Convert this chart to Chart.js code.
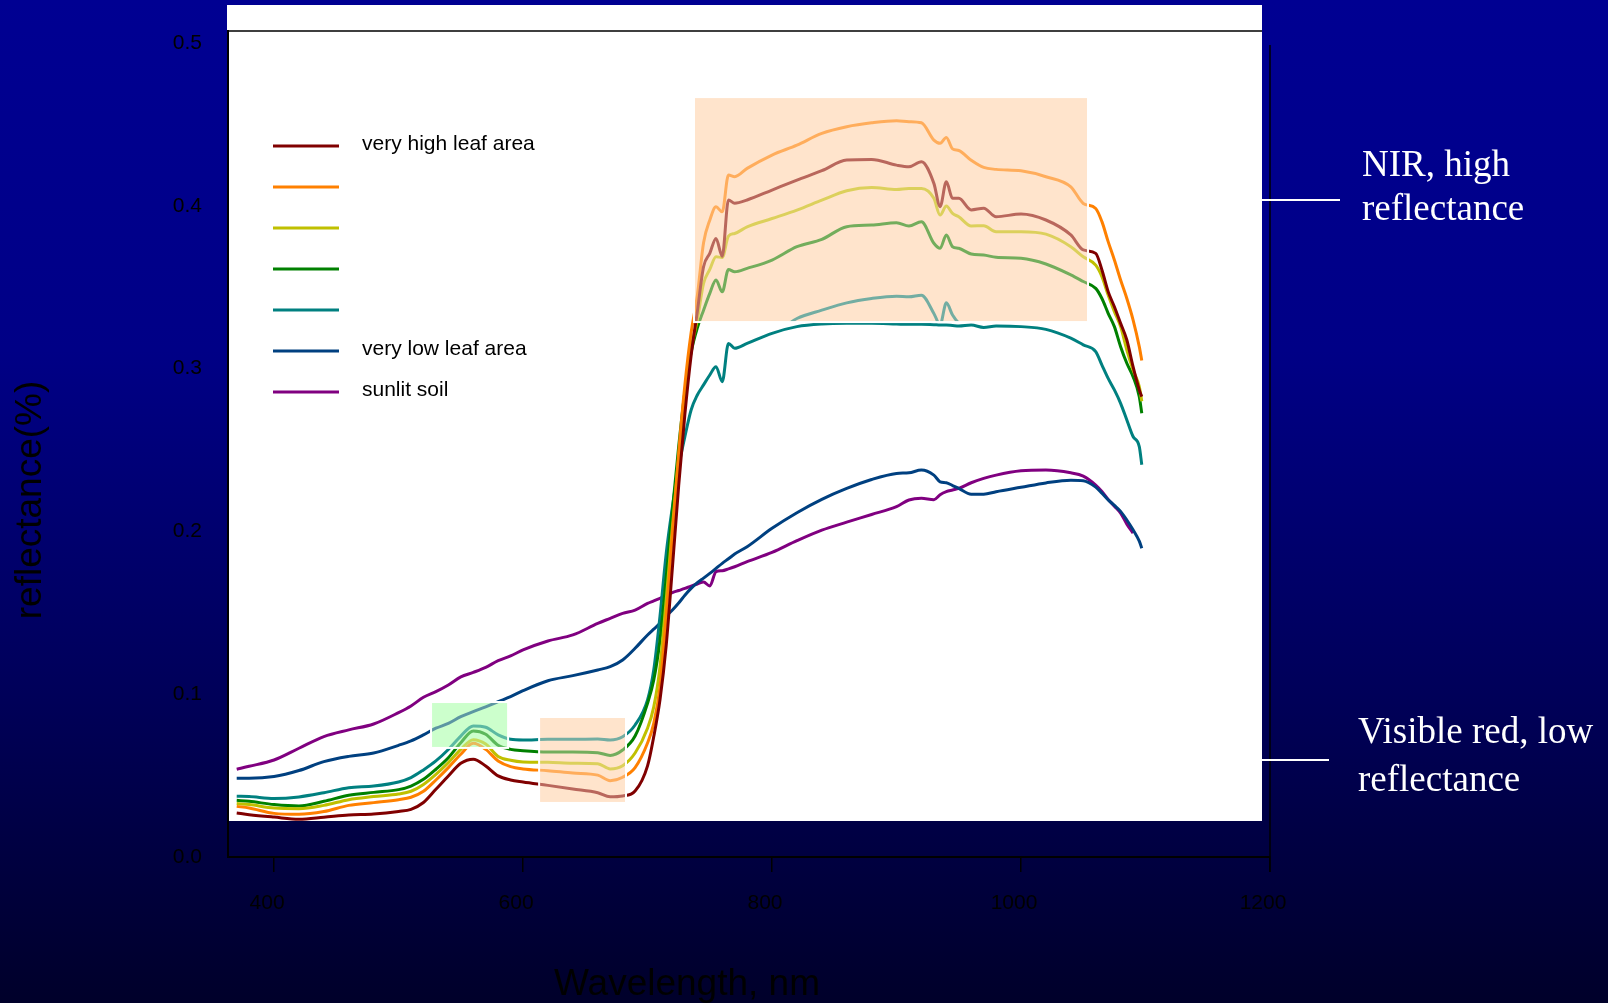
<!DOCTYPE html>
<html>
<head>
<meta charset="utf-8">
<title>Reflectancia</title>
<script src="https://cdn.jsdelivr.net/npm/chart.js@4.4.1/dist/chart.umd.min.js"></script>
<style>
  html, body { margin: 0; padding: 0; overflow: hidden; }
  body {
    width: 1608px;
    height: 1003px;
    background: linear-gradient(to bottom, #000092 0%, #000086 35%, #000058 70%, #00002a 100%);
  }
  canvas { display: block; }
</style>
</head>
<body>
<canvas id="chart" width="1608" height="1003"></canvas>
<script>
// Longitudes de onda (nm)
const wavelengths = [
  370, 380, 400, 420, 440, 460, 480, 500,
  510, 520, 530, 540, 550, 560, 570, 580, 590, 600,
  620, 640, 660, 670, 680, 690, 700,
  705, 710, 715, 720, 725, 730, 735, 740,
  745, 750, 755, 760, 765, 770, 780,
  800, 820, 840, 860, 880, 900,
  910, 920, 930, 935, 940, 945, 950,
  960, 970, 980, 1000, 1020, 1040, 1050,
  1060, 1065, 1070, 1075, 1080, 1085, 1090, 1095, 1097
];

// Reflectancia de cada serie
const veryHighLeaf = [
  0.027, 0.026, 0.0245, 0.0232, 0.0244, 0.0258, 0.0264, 0.028,
  0.0293, 0.0335, 0.0416, 0.0498, 0.0576, 0.0601, 0.0559, 0.0498, 0.0473, 0.0461,
  0.044, 0.0418, 0.0395, 0.037, 0.0375, 0.0405, 0.056,
  0.074, 0.0965, 0.13, 0.178, 0.228, 0.272, 0.308, 0.335,
  0.3626, 0.3708, 0.38, 0.369, 0.4036, 0.4016, 0.4036,
  0.4097, 0.4158, 0.4216, 0.4281, 0.4285, 0.425,
  0.424, 0.4271, 0.4138, 0.3995, 0.4148, 0.4046, 0.4046,
  0.3975, 0.3985, 0.3933, 0.395, 0.3913, 0.3821, 0.3729,
  0.3708, 0.3606, 0.3473, 0.338, 0.3278, 0.3176, 0.3012, 0.2869, 0.2828
];
const highLeaf = [
  0.0311, 0.0301, 0.0268, 0.0262, 0.0279, 0.0317, 0.0334, 0.0352,
  0.0367, 0.0404, 0.0473, 0.0549, 0.0631, 0.0698, 0.0661, 0.059, 0.0555, 0.0541,
  0.053, 0.0516, 0.0503, 0.0469, 0.049, 0.0549, 0.07,
  0.0821, 0.1044, 0.148, 0.198, 0.248, 0.29, 0.322, 0.345,
  0.3773, 0.3912, 0.3994, 0.3963, 0.4189, 0.4179, 0.423,
  0.4312, 0.4373, 0.4445, 0.4486, 0.451, 0.4523,
  0.4517, 0.451, 0.4404, 0.4384, 0.442, 0.435, 0.434,
  0.428, 0.4236, 0.4224, 0.4215, 0.4179, 0.4117, 0.4015,
  0.3984, 0.3903, 0.378, 0.3667, 0.3544, 0.3431, 0.33, 0.3135, 0.305
];
const mediumLeaf = [
  0.0328, 0.0322, 0.0301, 0.0297, 0.0317, 0.0352, 0.0371, 0.0387,
  0.0404, 0.0446, 0.0508, 0.058, 0.0661, 0.0721, 0.0694, 0.0618, 0.0594, 0.0584,
  0.0582, 0.0576, 0.0573, 0.0541, 0.0561, 0.0639, 0.0791,
  0.0922, 0.1168, 0.158, 0.203, 0.245, 0.283, 0.312, 0.33,
  0.3523, 0.3609, 0.3687, 0.3683, 0.3814, 0.383, 0.3871,
  0.3922, 0.3974, 0.4035, 0.4093, 0.4113, 0.4101,
  0.4107, 0.4107, 0.4046, 0.3943, 0.3999, 0.3953, 0.3933,
  0.3876, 0.3878, 0.3841, 0.3841, 0.3826, 0.3749, 0.3687,
  0.3636, 0.3565, 0.3452, 0.335, 0.3258, 0.3114, 0.2992, 0.289, 0.28
];
const lowLeaf = [
  0.0348, 0.0342, 0.0322, 0.0313, 0.0342, 0.0379, 0.0397, 0.0414,
  0.0436, 0.0477, 0.0539, 0.061, 0.0702, 0.0774, 0.0754, 0.0686, 0.0661, 0.0653,
  0.0645, 0.0645, 0.0641, 0.0624, 0.0657, 0.0743, 0.0944,
  0.1087, 0.1333, 0.172, 0.213, 0.252, 0.286, 0.31, 0.325,
  0.3359, 0.3462, 0.3544, 0.3472, 0.3609, 0.3595, 0.3616,
  0.3667, 0.3749, 0.3794, 0.3872, 0.3882, 0.3896,
  0.3876, 0.3902, 0.377, 0.3739, 0.3821, 0.3749, 0.3739,
  0.3704, 0.3698, 0.3684, 0.3678, 0.3643, 0.3576, 0.3535,
  0.3493, 0.3431, 0.334, 0.3258, 0.3135, 0.3033, 0.2951, 0.2828, 0.2726
];
const lowerLeaf = [
  0.0373, 0.0371, 0.0359, 0.0369, 0.0395, 0.0426, 0.0436, 0.0461,
  0.0488, 0.0535, 0.059, 0.066, 0.0743, 0.0805, 0.0797, 0.075, 0.0723, 0.0719,
  0.0723, 0.0723, 0.0725, 0.0719, 0.0739, 0.0811, 0.0965,
  0.115, 0.148, 0.1865, 0.2152, 0.2398, 0.2582, 0.2746, 0.2838,
  0.29, 0.2961, 0.3012, 0.292, 0.3155, 0.3125, 0.3155,
  0.3217, 0.3258, 0.3274, 0.3278, 0.3278, 0.3274,
  0.3272, 0.3272, 0.327, 0.3268, 0.3268, 0.3265, 0.3262,
  0.3268, 0.3253, 0.3262, 0.3258, 0.3241, 0.3187, 0.3146,
  0.3105, 0.3022, 0.294, 0.2869, 0.2787, 0.2685, 0.2583, 0.2521, 0.241
];
const veryLowLeaf = [
  0.0483, 0.0483, 0.0494, 0.0531, 0.0586, 0.0618, 0.0639, 0.0686,
  0.0713, 0.075, 0.0791, 0.0821, 0.0862, 0.0893, 0.0922, 0.0954, 0.0985, 0.1022,
  0.1083, 0.1114, 0.1149, 0.1169, 0.121, 0.1282, 0.1364,
  0.14, 0.1435, 0.148, 0.1517, 0.156, 0.1608, 0.165, 0.1685,
  0.1713, 0.1742, 0.1773, 0.1804, 0.1832, 0.1861, 0.1906,
  0.2019, 0.2115, 0.2197, 0.2264, 0.2319, 0.2356,
  0.236, 0.2377, 0.2346, 0.2305, 0.2299, 0.2282, 0.2264,
  0.2228, 0.2229, 0.2244, 0.2271, 0.2298, 0.2314, 0.2311,
  0.2272, 0.2235, 0.2194, 0.216, 0.2123, 0.207, 0.201, 0.194, 0.1897
];
const sunlitSoil = [
  0.0539, 0.0557, 0.0596, 0.0668, 0.074, 0.0781, 0.0817, 0.0887,
  0.0928, 0.0981, 0.1016, 0.1057, 0.1106, 0.1134, 0.1165, 0.1206, 0.1235, 0.1272,
  0.1327, 0.1364, 0.1435, 0.1466, 0.1497, 0.1517, 0.1558,
  0.1573, 0.1589, 0.1607, 0.1624, 0.1637, 0.165, 0.1664, 0.1677,
  0.1689, 0.1665, 0.1753, 0.1759, 0.177, 0.1783, 0.1814,
  0.1871, 0.1943, 0.2008, 0.2057, 0.2104, 0.2152,
  0.2193, 0.2203, 0.2195, 0.2225, 0.2244, 0.2254, 0.2264,
  0.2299, 0.2326, 0.2346, 0.2372, 0.2377, 0.236, 0.234,
  0.2285, 0.2245, 0.2197, 0.2155, 0.2112, 0.2045, 0.199, null, null
];

// Trazo que solo se ve dentro del recuadro NIR
const insetWavelengths = [810, 815, 820, 840, 860, 880, 900, 910, 920, 930, 935, 940, 945, 950, 955];
const insetValues = [0.325, 0.3284, 0.3308, 0.3359, 0.3404, 0.3431, 0.3445, 0.3441, 0.3451, 0.3339, 0.327, 0.3404, 0.3329, 0.328, 0.326];

// Leyenda y colores
const seriesLabels = ['very high leaf area', '', '', '', '', 'very low leaf area', 'sunlit soil'];
const seriesColors = ['#800000', '#ff8000', '#c0c000', '#008000', '#008080', '#004080', '#800080'];
const seriesValues = [veryHighLeaf, highLeaf, mediumLeaf, lowLeaf, lowerLeaf, veryLowLeaf, sunlitSoil];

// Ticks
const xTicks = [400, 600, 800, 1000, 1200];
const yTicks = [0, 0.1, 0.2, 0.3, 0.4, 0.5];

// Recuadros resaltados (nm / reflectancia)
const highlightBoxes = [
  { x0: 737.3, x1: 1053.8, y0: 0.3286, y1: 0.4668, fill: '255,228,204' },
  { x0: 526.1, x1: 588, y0: 0.067, y1: 0.0952, fill: '204,255,204' },
  { x0: 612.9, x1: 682.7, y0: 0.0332, y1: 0.086, fill: '255,228,204' }
];

function toPoints(xs, ys) {
  return xs.map((x, i) => ({ x, y: ys[i] }));
}

function boxRect(chart, b) {
  const xs = chart.scales.x, ys = chart.scales.y;
  const left = xs.getPixelForValue(b.x0), right = xs.getPixelForValue(b.x1);
  const top = ys.getPixelForValue(b.y1), bottom = ys.getPixelForValue(b.y0);
  return { left, top, w: right - left, h: bottom - top };
}

const datasets = seriesValues.map((vals, i) => ({
  label: seriesLabels[i],
  data: toPoints(wavelengths, vals),
  borderColor: seriesColors[i],
  borderWidth: 3,
  pointRadius: 0,
  cubicInterpolationMode: 'monotone',
  fill: false
}));

const insetIndex = datasets.length;
datasets.push({
  label: '',
  data: toPoints(insetWavelengths, insetValues),
  borderColor: '#008080',
  borderWidth: 3,
  pointRadius: 0,
  cubicInterpolationMode: 'monotone',
  fill: false
});

// Panel blanco, recuadros, marco, leyenda y textos
const slidePlugin = {
  id: 'slide',
  beforeDraw(chart) {
    const ctx = chart.ctx;
    ctx.save();
    ctx.fillStyle = '#ffffff';
    ctx.fillRect(227, 5, 1035, 816);
    ctx.restore();
  },
  beforeDatasetsDraw(chart) {
    const ctx = chart.ctx;
    ctx.save();
    highlightBoxes.forEach(b => {
      const r = boxRect(chart, b);
      ctx.fillStyle = 'rgb(' + b.fill + ')';
      ctx.fillRect(r.left, r.top, r.w, r.h);
    });
    ctx.restore();
  },
  beforeDatasetDraw(chart, args) {
    if (args.index !== insetIndex) return;
    const r = boxRect(chart, highlightBoxes[0]);
    chart.ctx.save();
    chart.ctx.beginPath();
    chart.ctx.rect(r.left, r.top, r.w, r.h);
    chart.ctx.clip();
  },
  afterDatasetDraw(chart, args) {
    if (args.index !== insetIndex) return;
    chart.ctx.restore();
  },
  afterDatasetsDraw(chart) {
    const ctx = chart.ctx;
    ctx.save();
    highlightBoxes.forEach(b => {
      const r = boxRect(chart, b);
      ctx.fillStyle = 'rgba(' + b.fill + ',0.45)';
      ctx.fillRect(r.left, r.top, r.w, r.h);
      ctx.strokeStyle = '#ffffff';
      ctx.lineWidth = 2;
      ctx.strokeRect(r.left, r.top, r.w, r.h);
    });
    ctx.restore();
  },
  afterDraw(chart) {
    const ctx = chart.ctx;
    const area = chart.chartArea;
    ctx.save();

    // Marco superior y derecho
    ctx.strokeStyle = '#000000';
    ctx.lineWidth = 1.5;
    ctx.beginPath();
    ctx.moveTo(area.left, area.top);
    ctx.lineTo(1262, area.top);
    const xr = chart.scales.x.getPixelForValue(1200);
    ctx.moveTo(xr, 45);
    ctx.lineTo(xr, 872);
    ctx.stroke();

    // Leyenda
    seriesLabels.forEach((label, i) => {
      const y = 146 + i * 41;
      ctx.strokeStyle = seriesColors[i];
      ctx.lineWidth = 3;
      ctx.beginPath();
      ctx.moveTo(273, y);
      ctx.lineTo(339, y);
      ctx.stroke();
      if (label) {
        ctx.fillStyle = '#000000';
        ctx.font = "21px 'Liberation Sans', Arial, sans-serif";
        ctx.textAlign = 'left';
        ctx.textBaseline = 'alphabetic';
        ctx.fillText(label, 362, y + 3.5);
      }
    });

    // Títulos de ejes
    ctx.fillStyle = '#000000';
    ctx.font = "37px 'Liberation Sans', Arial, sans-serif";
    ctx.textAlign = 'center';
    ctx.textBaseline = 'alphabetic';
    ctx.fillText('Wavelength, nm', 687, 995);
    ctx.save();
    ctx.translate(31, 500);
    ctx.rotate(-Math.PI / 2);
    ctx.textBaseline = 'middle';
    ctx.fillText('reflectance(%)', 0, 0);
    ctx.restore();

    // Anotaciones a la derecha
    ctx.strokeStyle = '#ffffff';
    ctx.lineWidth = 2;
    ctx.beginPath();
    ctx.moveTo(1262, 200);
    ctx.lineTo(1340, 200);
    ctx.moveTo(1262, 760);
    ctx.lineTo(1329, 760);
    ctx.stroke();

    ctx.fillStyle = '#ffffff';
    ctx.font = "37px 'Liberation Serif', 'Times New Roman', serif";
    ctx.textAlign = 'left';
    ctx.fillText('NIR, high', 1362, 176);
    ctx.fillText('reflectance', 1362, 220);
    ctx.fillText('Visible red, low', 1358, 743);
    ctx.fillText('reflectance', 1358, 791);

    ctx.restore();
  }
};

Chart.defaults.font.family = "'Liberation Sans', Arial, sans-serif";

new Chart(document.getElementById('chart'), {
  type: 'line',
  data: { datasets },
  options: {
    responsive: false,
    devicePixelRatio: 1,
    animation: false,
    layout: { padding: { top: 31, right: 338, bottom: 0, left: 0 } },
    plugins: {
      legend: { display: false },
      tooltip: { enabled: false }
    },
    scales: {
      x: {
        type: 'linear',
        min: 363,
        max: 1200,
        afterFit: s => { s.height = 146; },
        afterBuildTicks: s => { s.ticks = xTicks.map(v => ({ value: v })); },
        border: { display: true, color: '#000000', width: 2 },
        grid: { display: true, drawOnChartArea: false, drawTicks: true, tickLength: 15, color: '#000000', lineWidth: 1.5 },
        ticks: {
          color: '#000000',
          font: { size: 21 },
          padding: 19,
          labelOffset: -7,
          maxRotation: 0,
          callback: v => String(v)
        }
      },
      y: {
        min: 0,
        max: 0.5074,
        afterFit: s => { s.width = 228; },
        afterBuildTicks: s => { s.ticks = yTicks.map(v => ({ value: v })); },
        border: { display: true, color: '#000000', width: 2 },
        // marcas ocultas: solo sirven para separar las etiquetas del eje
        grid: { display: false, drawTicks: true, tickLength: 26 },
        ticks: {
          color: '#000000',
          font: { size: 21 },
          padding: 0,
          callback: v => v.toFixed(1)
        }
      }
    }
  },
  plugins: [slidePlugin]
});
</script>
</body>
</html>
